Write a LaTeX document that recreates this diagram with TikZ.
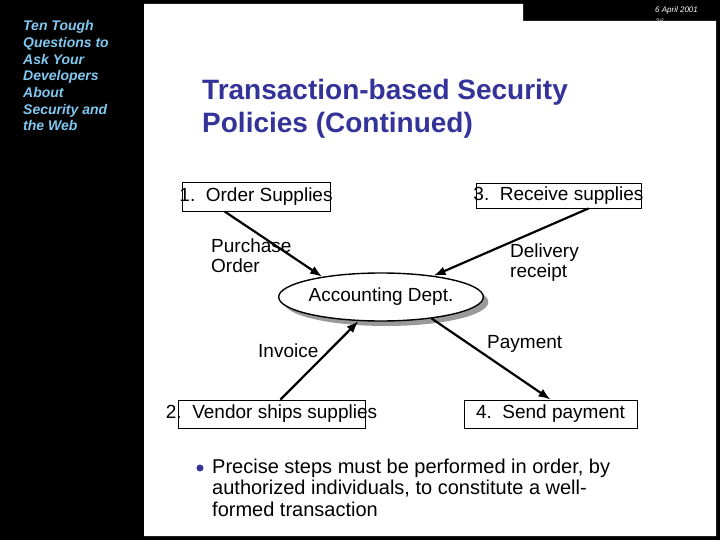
\documentclass[tikz,border=0pt]{standalone}
\usepackage{fontspec}
\setmainfont{Liberation Sans}
\usepackage{tikz}
\usetikzlibrary{arrows.meta,shapes.geometric,shadows}
\definecolor{ctitulo}{HTML}{333399}
\definecolor{clado}{HTML}{80C8F0}
\definecolor{cfecha}{HTML}{B0B0B0}
\tikzset{
  stepbox/.style={rectangle, draw=black, line width=0.9pt, inner sep=0pt},
  steptxt/.style={font=\fontsize{19}{22}\selectfont, inner sep=0pt},
  deptnode/.style={ellipse, draw=black, line width=1.4pt, fill=white, inner sep=0pt,
    minimum width=176pt, minimum height=48pt, font=\fontsize{19}{22}\selectfont,
    drop shadow={shadow xshift=5pt, shadow yshift=-5pt, fill=black!40, opacity=1}},
  flow/.style={-{Latex[length=12pt,width=9pt]}, line width=2.2pt, draw=black},
  lbl/.style={font=\fontsize{19}{20}\selectfont, align=left, inner sep=0pt, anchor=base west},
}
\begin{document}
\begin{tikzpicture}[x=1pt,y=-1pt]
  \useasboundingbox (0,0) rectangle (720,540);
  \fill[black] (0,0) rectangle (720,540);
  \node[anchor=base west, inner sep=0pt, text=white, font=\fontsize{8}{9}\selectfont\itshape] (fecha) at (655,13) {6 April 2001};
  \node[anchor=base west, inner sep=0pt, text=cfecha, font=\fontsize{8}{9}\selectfont\itshape] (pag) at (655,25) {36};
  \fill[white] (144,4) -- (523,4) -- (523,21) -- (716,21) -- (716,536) -- (144,536) -- cycle;
  \node[anchor=base west, align=left, inner sep=0pt, text=clado, font=\fontsize{14}{16.7}\selectfont\bfseries\itshape] (lado) at (23,131)
    {Ten Tough\\Questions to\\Ask Your\\Developers\\About\\Security and\\the Web};
  \node[anchor=base west, align=left, inner sep=0pt, text=ctitulo, font=\fontsize{28}{33}\selectfont\bfseries] (titulo) at (202,133)
    {Transaction-based Security\\Policies (Continued)};
  \node[stepbox, minimum width=148pt, minimum height=29pt, label={[steptxt]center:1.\ \ Order Supplies}] (ordbox) at (256,196.5) {};
  \node[stepbox, minimum width=165pt, minimum height=25pt, label={[steptxt]center:3.\ \ Receive supplies}] (rcvbox) at (558.5,195.5) {};
  \node[stepbox, minimum width=187pt, minimum height=28pt, label={[steptxt]center:2.\ \ Vendor ships supplies}] (venbox) at (271.5,414) {};
  \node[stepbox, minimum width=173pt, minimum height=28pt, label={[steptxt]center:4.\ \ Send payment}] (paybox) at (550.5,414) {};
  \node[deptnode] (acct) at (381,297) {Accounting Dept.};
  \node[lbl] (purch) at (211,272) {Purchase\\Order};
  \node[lbl] (deliv) at (510,277) {Delivery\\receipt};
  \node[lbl] (invo) at (258,357) {Invoice};
  \node[lbl] (pago) at (487,348) {Payment};
  \draw[flow] ([xshift=43pt]ordbox.south west) -- (acct.161);
  \draw[flow] ([xshift=30pt]rcvbox.south) -- (acct.22);
  \draw[flow] ([xshift=9pt]venbox.north) -- (acct.227);
  \draw[flow] (acct.337) -- (paybox.north);
  \node[circle, fill=ctitulo, inner sep=0pt, minimum size=7pt] (punto) at (200,468) {};
  \node[anchor=base west, align=left, inner sep=0pt, font=\fontsize{20}{21.5}\selectfont] (nota) at (212,516)
    {Precise steps must be performed in order, by\\authorized individuals, to constitute a well-\\formed transaction};
\end{tikzpicture}
\end{document}
